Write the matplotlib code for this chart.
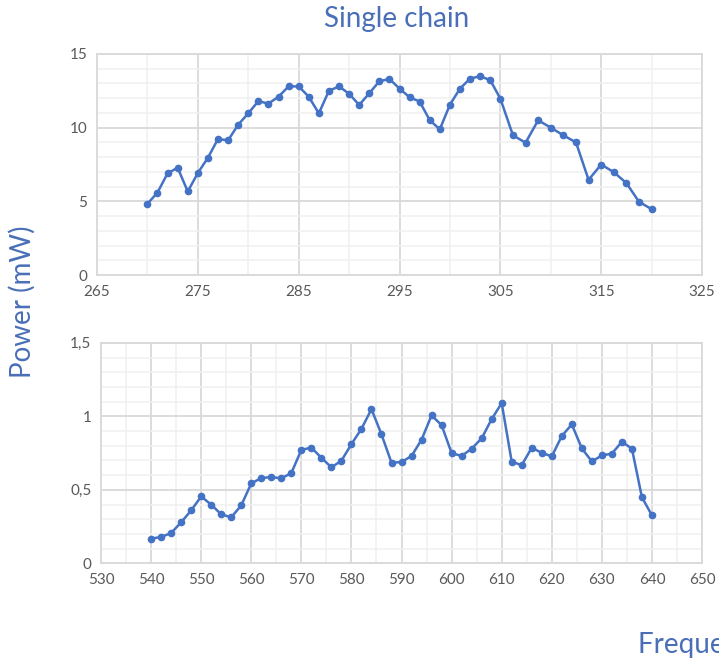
"""
Single chain — power vs frequency, two stacked panels (Excel-like styling).
"""

import matplotlib
matplotlib.use("Agg")

import matplotlib.pyplot as plt
import matplotlib.ticker as mticker


# ── Data ──────────────────────────────────────────────────────────────────────
top_freq = [
    270, 271, 272, 273, 274, 275, 276, 277, 278, 279, 280, 281, 282, 283, 284,
    285, 286, 287, 288, 289, 290, 291, 292, 293, 294, 295, 296, 297, 298, 299,
    300, 301, 302, 303, 304, 305,
    306.25, 307.5, 308.75, 310, 311.25, 312.5, 313.75, 315, 316.25, 317.5,
    318.75, 320,
]
top_power = [
    4.83, 5.6, 6.9, 7.28, 5.67, 6.92, 7.96, 9.23, 9.14, 10.2, 10.97, 11.8,
    11.63, 12.1, 12.8, 12.8, 12.1, 10.97, 12.5, 12.8, 12.3, 11.54, 12.33,
    13.15, 13.3, 12.65, 12.06, 11.77, 10.5, 9.89, 11.56, 12.65, 13.33, 13.49,
    13.22, 11.97,
    9.48, 8.98, 10.5, 10.0, 9.48, 9.0, 6.46, 7.5, 6.98, 6.24, 4.97, 4.47,
]

bottom_freq = list(range(540, 641, 2))
bottom_power = [
    0.168, 0.179, 0.206, 0.279, 0.36, 0.455, 0.399, 0.333, 0.313, 0.394,
    0.544, 0.58, 0.587, 0.578, 0.614, 0.772, 0.787, 0.718, 0.653, 0.698,
    0.811, 0.915, 1.049, 0.877, 0.684, 0.689, 0.730, 0.841, 1.006, 0.940,
    0.750, 0.730, 0.780, 0.850, 0.981, 1.090, 0.691, 0.668, 0.786, 0.752,
    0.727, 0.866, 0.945, 0.782, 0.693, 0.734, 0.746, 0.827, 0.780, 0.449,
    0.326,
]

top_xticks = [265, 275, 285, 295, 305, 315, 325]
top_yticks = [0, 5, 10, 15]
top_ylabels = ["0", "5", "10", "15"]

bottom_xticks = [530, 540, 550, 560, 570, 580, 590, 600, 610, 620, 630, 640, 650]
bottom_yticks = [0, 0.5, 1, 1.5]
bottom_ylabels = ["0", "0,5", "1", "1,5"]

title = "Single chain"
ylabel = "Power (mW)"
xlabel = "Frequency (THz)"


# ── Style ─────────────────────────────────────────────────────────────────────
LINE = "#4472C4"
TEXT_BLUE = "#4A6FB8"
TICK = "#595959"
MAJOR = "#D9D9D9"
MINOR = "#F0F0F0"

plt.rcParams["font.family"] = ["Lato", "DejaVu Sans"]


def _style_axes(ax, xlim, ylim, xticks, yticks, ylabels, xminor, yminor):
    ax.set_xlim(*xlim)
    ax.set_ylim(*ylim)
    ax.set_xticks(xticks)
    ax.set_yticks(yticks)
    ax.set_yticklabels(ylabels)
    ax.xaxis.set_minor_locator(mticker.MultipleLocator(xminor))
    ax.yaxis.set_minor_locator(mticker.MultipleLocator(yminor))
    ax.grid(True, which="minor", color=MINOR, linewidth=1.1, zorder=0)
    ax.grid(True, which="major", color=MAJOR, linewidth=1.3, zorder=1)
    ax.set_axisbelow(True)
    ax.tick_params(which="both", length=0, labelsize=11, colors=TICK, pad=7)
    for sp in ax.spines.values():
        sp.set_color(MAJOR)
        sp.set_linewidth(1.3)


fig = plt.figure(figsize=(7.19, 6.58), dpi=100)

ax_top = fig.add_axes([0.1349, 0.582, 0.9764 - 0.1349, 0.918 - 0.582])
ax_bot = fig.add_axes([0.1405, 0.1439, 0.9764 - 0.1405, 0.479 - 0.1439])

ax_top.plot(top_freq, top_power, color=LINE, linewidth=1.8,
            marker="o", markersize=4.5, zorder=3)
_style_axes(ax_top, (265, 325), (0, 15), top_xticks, top_yticks, top_ylabels,
            5, 1)

ax_bot.plot(bottom_freq, bottom_power, color=LINE, linewidth=1.8,
            marker="o", markersize=4.5, zorder=3)
_style_axes(ax_bot, (530, 650), (0, 1.5), bottom_xticks, bottom_yticks,
            bottom_ylabels, 5, 0.1)

# text labels (x label runs off the right edge, as in the original export)
fig.text(0.552, 0.971, title, ha="center", va="center", fontsize=20,
         color=TEXT_BLUE)
fig.text(0.031, 0.541, ylabel, ha="center", va="center", rotation=90,
         fontsize=20, color=TEXT_BLUE)
fig.text(0.888, 0.008, xlabel, ha="left", va="baseline", fontsize=20,
         color=TEXT_BLUE)

fig.savefig("out.png", dpi=100)
plt.close(fig)
